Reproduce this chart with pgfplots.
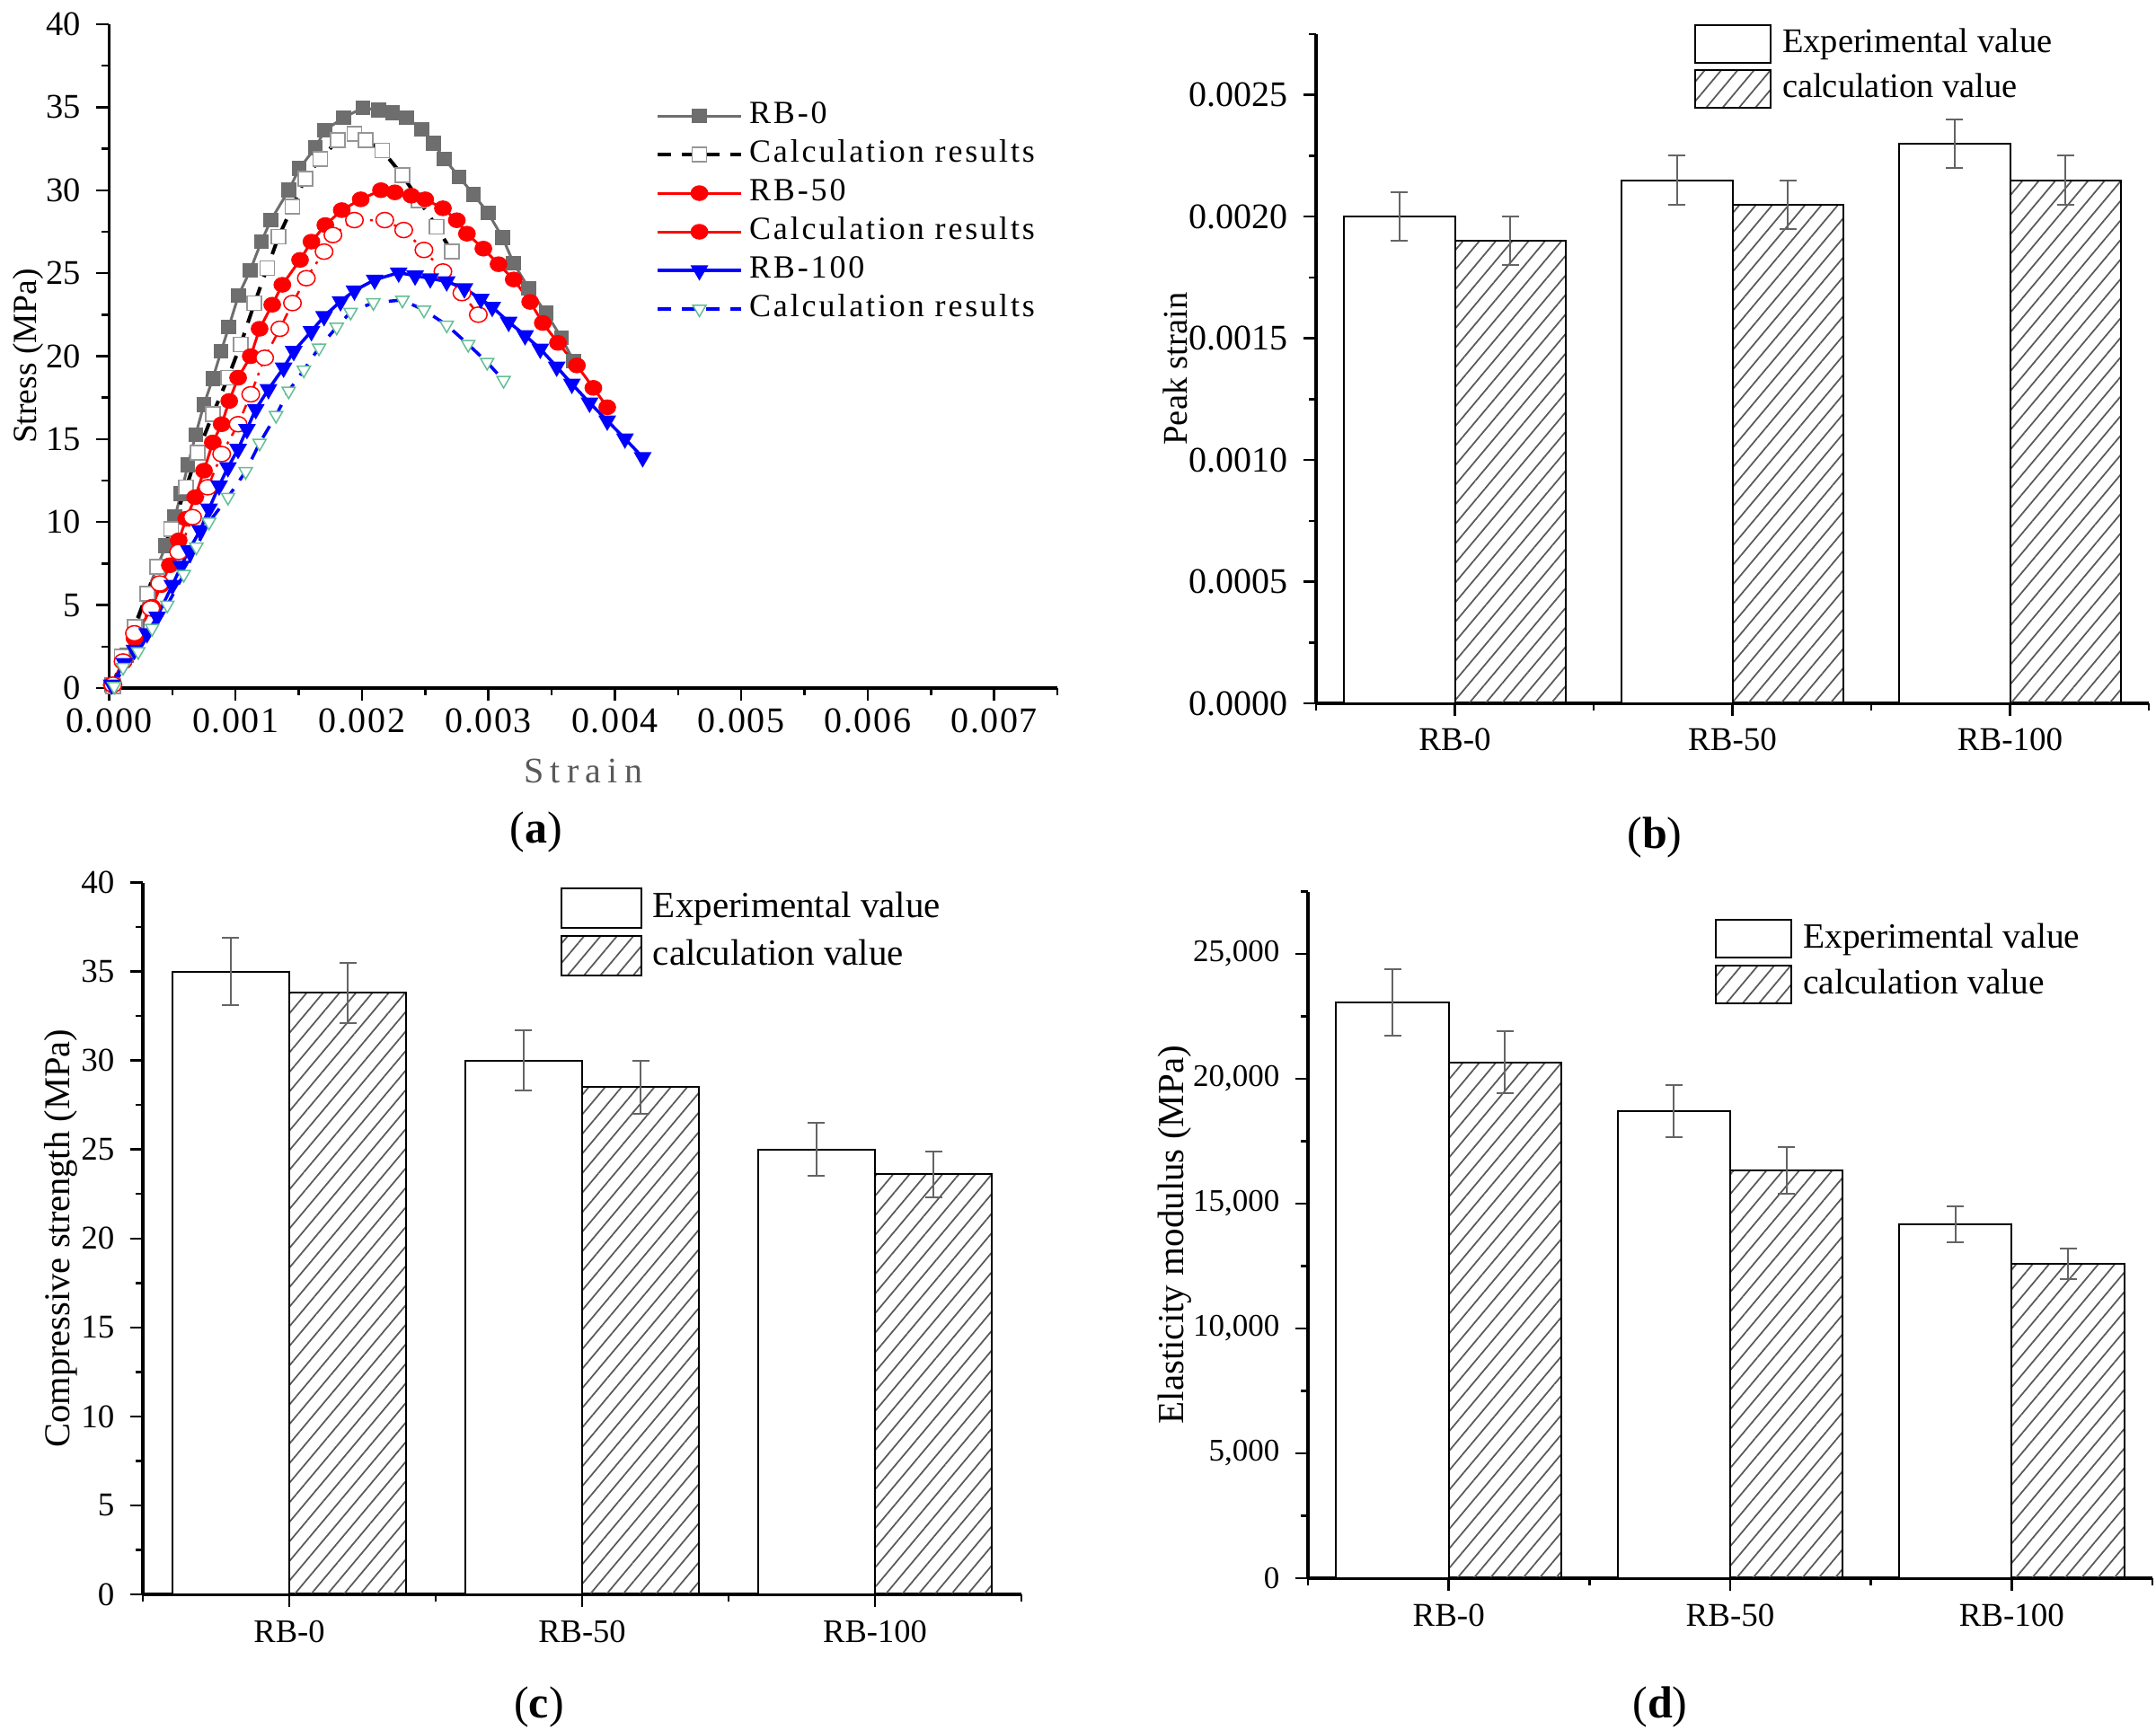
\documentclass[border=0pt]{standalone}
\usepackage{fontspec}
\setmainfont{Liberation Serif}
\newfontfamily\spacedfont[LetterSpace=8]{Liberation Serif}
\newfontfamily\widefont[LetterSpace=18]{Liberation Serif}
\newfontfamily\tickfont[LetterSpace=4]{Liberation Serif}
\usepackage{pgfplots}
\pgfplotsset{compat=1.18}
\usetikzlibrary{patterns,patterns.meta}
\definecolor{rbgray}{RGB}{110,110,110}
\definecolor{sqgray}{RGB}{150,150,150}
\definecolor{rbred}{RGB}{255,0,0}
\definecolor{rbblue}{RGB}{0,0,255}
\definecolor{rbgreen}{RGB}{100,190,150}
\definecolor{errgray}{RGB}{100,100,100}
\newcommand{\fs}[1]{\fontsize{#1}{#1}\selectfont}

\pgfplotsset{
  common/.style={
    scale only axis,
    axis x line*=bottom, axis y line*=left,
    axis line style={-, line width=0.7pt, black},
    tick align=outside,
    major tick length=2.8pt, minor tick length=1.6pt,
    tick style={black, line width=0.5pt},
    /pgf/number format/assume math mode=true,
    scaled x ticks=false, scaled y ticks=false,
    clip=false,
  },
  barax/.style={common,
    xmin=0.5, xmax=3.5, xtick={1,2,3}, xticklabels={RB-0,RB-50,RB-100},
    minor xtick={0.5,1.5,2.5,3.5}, ymin=0,
    legend cell align=left,
    legend style={draw=none, fill=none, inner sep=0pt, anchor=north west,
      nodes={inner sep=0pt, text height=5.5pt, text depth=1.5pt},
      /tikz/every odd column/.append style={column sep=2.4pt}},
  },
  expbar/.style={ybar, bar width=0.4, bar shift=0pt, draw=black, line width=0.4pt, fill=white, forget plot,
    error bars/y dir=both, error bars/y explicit,
    error bars/error bar style={errgray, line width=0.4pt},
    error bars/error mark options={errgray, rotate=90, mark size=1.9pt, line width=0.4pt}},
  calcbar/.style={ybar, bar width=0.4, bar shift=0pt, draw=black, line width=0.4pt,
    pattern={Lines[angle=50, distance=2.8pt, line width=0.35pt]}, pattern color=black!65, forget plot,
    error bars/y dir=both, error bars/y explicit,
    error bars/error bar style={errgray, line width=0.4pt},
    error bars/error mark options={errgray, rotate=90, mark size=1.9pt, line width=0.4pt}},
}

\begin{document}
\begin{tikzpicture}
\path[use as bounding box] (0,0) rectangle (480pt,-385.2pt);

% ---------------- (a) ----------------
\begin{axis}[common, at={(24.3pt,-153.2pt)}, anchor=south west,
  width=211.1pt, height=147.8pt,
  xmin=0, xmax=0.0075, ymin=0, ymax=40,
  xtick={0,0.001,0.002,0.003,0.004,0.005,0.006,0.007},
  minor xtick={0.0005,0.0015,0.0025,0.0035,0.0045,0.0055,0.0065,0.0075},
  ytick={0,5,10,15,20,25,30,35,40},
  minor ytick={2.5,7.5,12.5,17.5,22.5,27.5,32.5,37.5},
  xticklabel style={font={\tickfont\fs{8}}, yshift=1.8pt, /pgf/number format/.cd, fixed, fixed zerofill, precision=3},
  yticklabel style={font=\fs{7.7}},
  xlabel={\widefont Strain},
  xlabel style={font=\fs{8}, text=black!65, at={(axis description cs:0.5,-0.125)}, anchor=center},
  ylabel={Stress (MPa)},
  ylabel style={font=\fs{7.5}, at={(axis description cs:-0.0857,0.5)}, anchor=center},
  legend cell align=left,
  legend style={at={(axis description cs:0.5756,0.8853)}, anchor=north west,
    draw=none, fill=none, inner sep=0pt, font={\spacedfont\fs{7.2}}, row sep=2.1pt,
    nodes={inner sep=0pt, text height=5pt, text depth=1.5pt},
    /tikz/every odd column/.append style={column sep=1.4pt}},
  legend image code/.code={\draw[mark repeat=2,mark phase=2,#1] plot coordinates {(0pt,0pt) (9.3pt,0pt) (18.6pt,0pt)};},
]
% RB-0
\addplot[forget plot, rbgray, line width=0.6pt, mark=square*, mark size=1.35pt,
  mark options={solid, fill=rbgray, draw=rbgray}] coordinates {
(0.00002,0.2) (0.000137,1.98) (0.000219,3.72) (0.000295,5.70) (0.000383,7.35)
(0.000448,8.57) (0.000520,10.31) (0.000569,11.73) (0.000623,13.44) (0.000684,15.26)
(0.000749,17.07) (0.000820,18.65) (0.000886,20.30) (0.000946,21.75) (0.001023,23.66)
(0.001116,25.17) (0.001203,26.89) (0.001280,28.20) (0.001422,30.02) (0.001504,31.30)
(0.001630,32.55) (0.001706,33.61) (0.001854,34.37) (0.002007,34.96) (0.002133,34.83)
(0.002242,34.66) (0.002352,34.37) (0.002472,33.67) (0.002565,32.82) (0.002652,31.89)
(0.002767,30.81) (0.002882,29.75) (0.002997,28.63) (0.003112,27.15) (0.003199,25.60)
(0.003319,24.09) (0.003456,22.60) (0.003577,21.12) (0.003675,19.70)};
% Calc RB-0
\addplot[forget plot, black, line width=0.8pt, dash pattern=on 3pt off 2.4pt, mark=square*, mark size=1.6pt,
  mark options={solid, fill=white, draw=sqgray, line width=0.35pt}] coordinates {
(0.00003,0.1) (0.00010,1.9) (0.00020,3.7) (0.00030,5.7) (0.00038,7.3) (0.00049,9.6)
(0.00061,12.1) (0.00070,14.2) (0.00082,16.5) (0.00094,18.7) (0.00104,20.7) (0.00115,23.2)
(0.00125,25.3) (0.00134,27.2) (0.00145,29.0) (0.00155,30.7) (0.00167,31.9) (0.00181,33.0)
(0.00194,33.4) (0.00203,33.0) (0.00216,32.4) (0.00232,30.9) (0.00245,29.4) (0.00259,27.8)
(0.00271,26.3)};
% RB-50
\addplot[forget plot, rbred, line width=0.6pt, mark=*, mark size=1.45pt,
  mark options={solid, fill=rbred, xscale=1.15}] coordinates {
(0.00002,0.2) (0.00011,1.6) (0.00020,3.0) (0.00034,4.9) (0.00041,6.2) (0.00048,7.4)
(0.00055,8.9) (0.00061,10.2) (0.00068,11.5) (0.00075,13.1) (0.00082,14.8) (0.00089,15.9)
(0.00095,17.3) (0.00102,18.7) (0.00112,20.0) (0.00119,21.65) (0.00129,23.1) (0.00137,24.3)
(0.00151,25.8) (0.00160,26.9) (0.00171,27.9) (0.00184,28.8) (0.00199,29.45) (0.00215,30.0)
(0.00226,29.87) (0.00239,29.67) (0.00250,29.45) (0.00264,28.91) (0.00275,28.19) (0.00283,27.38)
(0.00296,26.48) (0.00308,25.54) (0.00320,24.62) (0.00333,23.27) (0.00343,22.0) (0.00355,20.8)
(0.00370,19.44) (0.00383,18.09) (0.00394,16.92)};
% Calc RB-50
\addplot[forget plot, rbred, line width=0.5pt, dash pattern=on 2pt off 1.5pt on 0.6pt off 1.5pt, mark=*, mark size=1.7pt,
  mark options={solid, fill=white, draw=rbred, line width=0.3pt, xscale=1.15}] coordinates {
(0.00003,0.2) (0.00011,1.6) (0.00020,3.3) (0.00033,4.8) (0.00040,6.3) (0.00055,8.2)
(0.00066,10.3) (0.00078,12.1) (0.00089,14.1) (0.00102,15.9) (0.00112,17.7) (0.00123,19.9)
(0.00135,21.65) (0.00145,23.2) (0.00156,24.7) (0.00170,26.3) (0.00177,27.3) (0.00194,28.2)
(0.00218,28.2) (0.00233,27.6) (0.00249,26.4) (0.00264,25.1) (0.00279,23.8) (0.00292,22.5)};
% RB-100
\addplot[forget plot, rbblue, line width=0.7pt, mark=triangle*, mark size=1.6pt,
  mark options={solid, fill=rbblue, rotate=180}] coordinates {
(0.00002,0.2) (0.00012,1.5) (0.00020,2.3) (0.00030,3.3) (0.00038,4.3) (0.00050,6.2)
(0.00057,7.35) (0.00063,8.3) (0.00072,9.5) (0.00079,10.8) (0.00087,12.2) (0.00094,13.3)
(0.00102,14.4) (0.00109,15.6) (0.00116,16.8) (0.00126,18.0) (0.00138,19.3) (0.00146,20.3)
(0.00160,21.5) (0.00170,22.4) (0.00183,23.3) (0.00194,23.95) (0.00210,24.6) (0.00229,25.03)
(0.00242,24.85) (0.00254,24.68) (0.00267,24.5) (0.00281,24.08) (0.00294,23.45) (0.00303,22.96)
(0.00316,22.06) (0.00329,21.25) (0.00341,20.44) (0.00354,19.36) (0.00366,18.33) (0.00380,17.19)
(0.00394,16.11) (0.00408,15.03) (0.00422,13.9)};
% Calc RB-100
\addplot[forget plot, rbblue, line width=0.7pt, dash pattern=on 3pt off 2.4pt, mark=triangle*, mark size=1.7pt,
  mark options={solid, fill=white, draw=rbgreen, line width=0.3pt, rotate=180}] coordinates {
(0.00004,0.1) (0.00011,1.25) (0.00023,2.2) (0.00034,3.6) (0.00046,5.0) (0.00059,6.85)
(0.00069,8.5) (0.00079,10.0) (0.00094,11.5) (0.00108,13.05) (0.00119,14.76) (0.00132,16.43)
(0.00142,17.9) (0.00154,19.17) (0.00166,20.5) (0.00180,21.75) (0.00191,22.65) (0.00209,23.23)
(0.00232,23.38) (0.00249,22.78) (0.00267,21.88) (0.00284,20.71) (0.00299,19.63) (0.00312,18.54)};

\addlegendimage{rbgray, line width=0.6pt, mark=square*, mark size=1.35pt, mark options={solid, fill=rbgray}}
\addlegendentry{RB-0}
\addlegendimage{black, line width=0.8pt, dash pattern=on 3pt off 2.4pt, mark=square*, mark size=1.6pt, mark options={solid, fill=white, draw=sqgray, line width=0.35pt}}
\addlegendentry{Calculation results}
\addlegendimage{rbred, line width=0.6pt, mark=*, mark size=1.45pt, mark options={solid, fill=rbred, xscale=1.15}}
\addlegendentry{RB-50}
\addlegendimage{rbred, line width=0.6pt, mark=*, mark size=1.45pt, mark options={solid, fill=rbred, xscale=1.15}}
\addlegendentry{Calculation results}
\addlegendimage{rbblue, line width=0.7pt, mark=triangle*, mark size=1.6pt, mark options={solid, fill=rbblue, rotate=180}}
\addlegendentry{RB-100}
\addlegendimage{rbblue, line width=0.7pt, dash pattern=on 3pt off 2.4pt, mark=triangle*, mark size=1.7pt, mark options={solid, fill=white, draw=rbgreen, line width=0.3pt, rotate=180}}
\addlegendentry{Calculation results}
\end{axis}

% ---------------- (b) ----------------
\begin{axis}[barax, at={(293pt,-156.6pt)}, anchor=south west,
  width=185.4pt, height=149pt, ymax=0.00275,
  ytick={0,0.0005,0.001,0.0015,0.002,0.0025},
  minor ytick={0.00025,0.00075,0.00125,0.00175,0.00225,0.00275},
  yticklabel style={font=\fs{8}, /pgf/number format/.cd, fixed, fixed zerofill, precision=4},
  xticklabel style={font=\fs{7.4}, yshift=0.8pt},
  ylabel={Peak strain},
  ylabel style={font=\fs{7.7}, at={(axis description cs:-0.1694,0.5)}, anchor=center},
  legend style={at={(axis description cs:0.4531,1.0161)}, font=\fs{7.7}, row sep=1.2pt},
  legend image code/.code={\draw[#1] (0pt,-4.2pt) rectangle (16.8pt,4.2pt);},
]
\addplot[expbar] coordinates {(0.8,0.0020) +- (0,0.0001) (1.8,0.00215) +- (0,0.0001) (2.8,0.0023) +- (0,0.0001)};
\addplot[calcbar] coordinates {(1.2,0.0019) +- (0,0.0001) (2.2,0.00205) +- (0,0.0001) (3.2,0.00215) +- (0,0.0001)};
\addlegendimage{draw=black, line width=0.4pt, fill=white}
\addlegendentry{Experimental value}
\addlegendimage{draw=black, line width=0.4pt, pattern={Lines[angle=50, distance=2.8pt, line width=0.35pt]}, pattern color=black!65}
\addlegendentry{calculation value}
\end{axis}

% ---------------- (c) ----------------
\begin{axis}[barax, at={(31.8pt,-355pt)}, anchor=south west,
  width=195.6pt, height=158.5pt, ymax=40,
  ytick={0,5,10,15,20,25,30,35,40},
  minor ytick={2.5,7.5,12.5,17.5,22.5,27.5,32.5,37.5},
  yticklabel style={font=\fs{7.4}},
  xticklabel style={font=\fs{7.3}, yshift=0.5pt},
  ylabel={Compressive strength (MPa)},
  ylabel style={font=\fs{8.1}, at={(axis description cs:-0.093,0.5)}, anchor=center},
  legend style={at={(axis description cs:0.4744,0.9943)}, font=\fs{8.2}, row sep=1.4pt},
  legend image code/.code={\draw[#1] (0pt,-4.4pt) rectangle (17.8pt,4.4pt);},
]
\addplot[expbar] coordinates {(0.8,35) +- (0,1.9) (1.8,30) +- (0,1.7) (2.8,25) +- (0,1.5)};
\addplot[calcbar] coordinates {(1.2,33.8) +- (0,1.7) (2.2,28.5) +- (0,1.5) (3.2,23.6) +- (0,1.3)};
\addlegendimage{draw=black, line width=0.4pt, fill=white}
\addlegendentry{Experimental value}
\addlegendimage{draw=black, line width=0.4pt, pattern={Lines[angle=50, distance=2.8pt, line width=0.35pt]}, pattern color=black!65}
\addlegendentry{calculation value}
\end{axis}

% ---------------- (d) ----------------
\begin{axis}[barax, at={(291.2pt,-351.4pt)}, anchor=south west,
  width=188pt, height=152.9pt, ymax=27500,
  ytick={0,5000,10000,15000,20000,25000},
  minor ytick={2500,7500,12500,17500,22500,27500},
  yticklabel style={font=\fs{7}, /pgf/number format/.cd, 1000 sep={,}},
  xticklabel style={font=\fs{7.4}, yshift=0.5pt},
  ylabel={Elasticity modulus (MPa)},
  ylabel style={font=\fs{8.2}, at={(axis description cs:-0.1574,0.5)}, anchor=center},
  legend style={at={(axis description cs:0.481,0.9614)}, font=\fs{7.9}, row sep=1.4pt},
  legend image code/.code={\draw[#1] (0pt,-4.2pt) rectangle (16.8pt,4.2pt);},
]
\addplot[expbar] coordinates {(0.8,23050) +- (0,1340) (1.8,18700) +- (0,1050) (2.8,14170) +- (0,710)};
\addplot[calcbar] coordinates {(1.2,20650) +- (0,1240) (2.2,16330) +- (0,950) (3.2,12590) +- (0,610)};
\addlegendimage{draw=black, line width=0.4pt, fill=white}
\addlegendentry{Experimental value}
\addlegendimage{draw=black, line width=0.4pt, pattern={Lines[angle=50, distance=2.8pt, line width=0.35pt]}, pattern color=black!65}
\addlegendentry{calculation value}
\end{axis}

\node[font=\fs{10}] at (119.4pt,-185.2pt) {(\textbf{a})};
\node[font=\fs{10}] at (368.4pt,-186.4pt) {(\textbf{b})};
\node[font=\fs{10}] at (120pt,-380pt) {(\textbf{c})};
\node[font=\fs{10}] at (369.6pt,-380pt) {(\textbf{d})};
\end{tikzpicture}
\end{document}
